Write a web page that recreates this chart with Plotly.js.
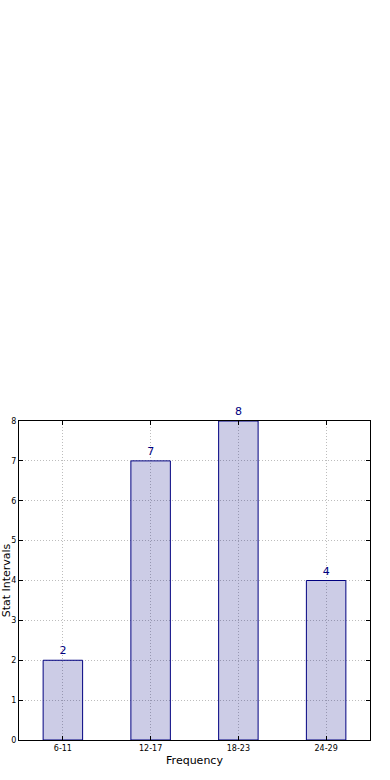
<!DOCTYPE html>
<html>
<head>
<meta charset="utf-8">
<script src="https://cdn.plot.ly/plotly-3.0.1.min.js"></script>
<style>html,body{margin:0;padding:0;background:#fff;}#chart{width:390px;height:780px;}</style>
</head>
<body>
<div id="chart"></div>
<script>
var categories = ['6-11', '12-17', '18-23', '24-29'];
var counts = [2, 7, 8, 4];
var yTicks = [0, 1, 2, 3, 4, 5, 6, 7, 8];

var trace = {
  type: 'bar',
  x: categories,
  y: counts,
  width: 0.45,
  text: counts.map(String),
  textposition: 'outside',
  cliponaxis: false,
  textfont: {family: 'DejaVu Sans', size: 11, color: '#000080'},
  marker: {color: 'rgba(0,0,128,0.2)', line: {color: '#000080', width: 1}},
  hoverinfo: 'none'
};

var layout = {
  width: 390, height: 780,
  paper_bgcolor: '#fff', plot_bgcolor: '#fff',
  margin: {l: 19, r: 20, t: 421, b: 40},
  showlegend: false,
  font: {family: 'DejaVu Sans', color: '#000'},
  xaxis: {
    type: 'category', range: [-0.5, 3.5], automargin: false,
    showline: true, linecolor: '#000', linewidth: 1, mirror: 'ticks',
    ticks: 'inside', ticklen: 4, tickcolor: '#000',
    showgrid: true, gridcolor: '#bdbdbd', griddash: '1px,2px', gridwidth: 1,
    tickfont: {size: 8, family: 'DejaVu Sans'},
    title: {text: 'Frequency', font: {size: 11, family: 'DejaVu Sans'}, standoff: 4}
  },
  yaxis: {
    range: [0, 8], tickvals: yTicks, automargin: false,
    showline: true, linecolor: '#000', linewidth: 1, mirror: 'ticks',
    ticks: 'inside', ticklen: 4, tickcolor: '#000',
    showgrid: true, gridcolor: '#bdbdbd', griddash: '1px,2px', gridwidth: 1,
    zeroline: false,
    tickfont: {size: 8, family: 'DejaVu Sans'},
    title: {text: 'Stat Intervals', font: {size: 11, family: 'DejaVu Sans'}, standoff: 1}
  },
  bargap: 0.55
};

Plotly.newPlot('chart', [trace], layout, {displayModeBar: false, staticPlot: true});
</script>
</body>
</html>
